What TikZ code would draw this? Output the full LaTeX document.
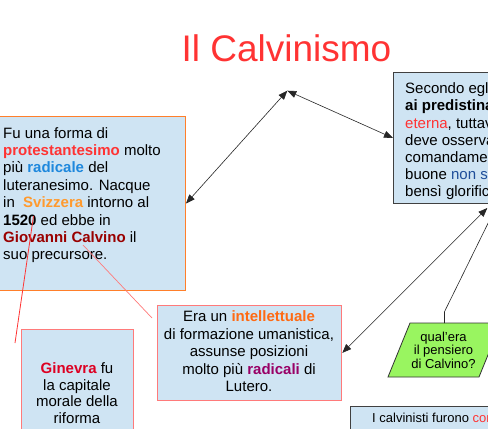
\documentclass[tikz,border=0pt]{standalone}
\usepackage{fontspec}
\setmainfont{Liberation Sans}
\usetikzlibrary{arrows.meta}
\definecolor{titlered}{HTML}{FF3333}
\definecolor{boxblue}{HTML}{CFE4F3}
\definecolor{orangeborder}{HTML}{FF7F2A}
\definecolor{pinkborder}{HTML}{FF7A7A}
\definecolor{darkborder}{HTML}{404040}
\definecolor{paragreen}{HTML}{99F560}
\definecolor{cRed}{HTML}{FF3333}
\definecolor{cBlue}{HTML}{1E88DD}
\definecolor{cOrange}{HTML}{FF9A2E}
\definecolor{cDarkRed}{HTML}{990000}
\definecolor{cOrangeInt}{HTML}{FF6A13}
\definecolor{cPurple}{HTML}{990066}
\definecolor{cGinevra}{HTML}{DD0022}
\definecolor{cNavy}{HTML}{1F4E9A}
\begin{document}
\begin{tikzpicture}[x=1pt,y=-1pt,
  box/.style={draw, fill=boxblue, line width=1pt, inner sep=0pt, anchor=north west},
  txt/.style={inner sep=0pt, font=\fontsize{15}{17.4}\selectfont},
  conn/.style={draw=black!85, line width=0.6pt, {Triangle[length=9pt,width=7pt]}-{Triangle[length=9pt,width=7pt]}},
  plainline/.style={draw=black!85, line width=0.6pt},
  redline/.style={draw=red!80, line width=0.8pt},
  pinkline/.style={draw=pinkborder, line width=0.7pt}
]
\useasboundingbox (0,0) rectangle (488,429);
\clip (0,0) rectangle (488,429);
\fill[white] (0,0) rectangle (488,429);

\node[font=\fontsize{37}{44}\selectfont, text=titlered, inner sep=0pt, anchor=base] (title) at (286.5,61) {Il Calvinismo};

% boxes
\node[box, draw=orangeborder, minimum width=195pt, minimum height=174pt] (L) at (-10,116) {};
\node[box, draw=darkborder, minimum width=200pt, minimum height=131pt] (TR) at (393,72) {};
\node[box, draw=pinkborder, line width=1.3pt, minimum width=184pt, minimum height=95.5pt] (M) at (157,304.5) {};
\node[box, draw=pinkborder, line width=1.3pt, minimum width=111.5pt, minimum height=120pt] (G) at (21,329) {};
\node[box, draw=darkborder, minimum width=200pt, minimum height=60pt] (BR) at (350,406) {};

% parallelogram
\draw[fill=paragreen, draw=black!80, line width=0.8pt] (388,377) -- (479,377) -- (501,323) -- (410,323) -- cycle;
\coordinate (Ptop) at (444.5,323);

% texts
\node[txt, align=left, anchor=north west] (Ltext) at (3,125.8) {\strut Fu una forma di\\
\textbf{\textcolor{cRed}{protestantesimo}} molto\\
più \textbf{\textcolor{cBlue}{radicale}} del\\
luteranesimo. Nacque\\
in\ \ \textbf{\textcolor{cOrange}{Svizzera}} intorno al\\
\textbf{1520} ed ebbe in\\
\textbf{\textcolor{cDarkRed}{Giovanni Calvino}} il\\
suo precursore.};

\node[txt, font=\fontsize{15}{17.2}\selectfont, align=left, anchor=north west] (TRtext) at (405,81.5) {\strut Secondo egli\\
\textbf{ai predistinati}\\
\textcolor{cRed}{eterna}, tuttavia\\
deve osservare\\
comandamenti\\
buone \textcolor{cNavy}{non sono}\\
bensì glorificano};

\node[txt, font=\fontsize{15}{17.5}\selectfont, align=center, anchor=north] (Mtext) at (249,309.5) {\strut Era un \textbf{\textcolor{cOrangeInt}{intellettuale}}\\
di formazione umanistica,\\
assunse posizioni\\
molto più \textbf{\textcolor{cPurple}{radicali}} di\\
Lutero.};

\node[txt, font=\fontsize{15}{16.7}\selectfont, align=center, anchor=north] (Gtext) at (77,361.6) {\strut \textbf{\textcolor{cGinevra}{Ginevra}} fu\\
la capitale\\
morale della\\
riforma};

\node[txt, font=\fontsize{13}{13.7}\selectfont, align=center, anchor=north] (P) at (443.5,331.4) {\strut qual'era\\il pensiero\\di Calvino?};

\node[txt, font=\fontsize{13}{15}\selectfont, anchor=base west] (BRtext) at (372,422.7) {I calvinisti furono \textcolor{cRed}{considerati}};

% connectors
\coordinate (hub) at (287.3,90.7);
\draw[conn] (L.east) -- (hub);
\draw[conn] (hub) -- (TR.west);
\coordinate (trbot) at (487.3,208);
\draw[conn] (M.east) -- (trbot);
\coordinate (Pbend) at (444.5,311.7);
\coordinate (trbot2) at (498,203);
\draw[plainline] (Ptop) -- (Pbend) -- (trbot2);

% red lines
\coordinate (a1) at (33.5,216);
\coordinate (a2) at (15,343);
\draw[redline] (a1) -- (a2);
\coordinate (b1) at (83,245);
\coordinate (b2) at (152,318);
\draw[pinkline] (b1) -- (b2);
\end{tikzpicture}
\end{document}
